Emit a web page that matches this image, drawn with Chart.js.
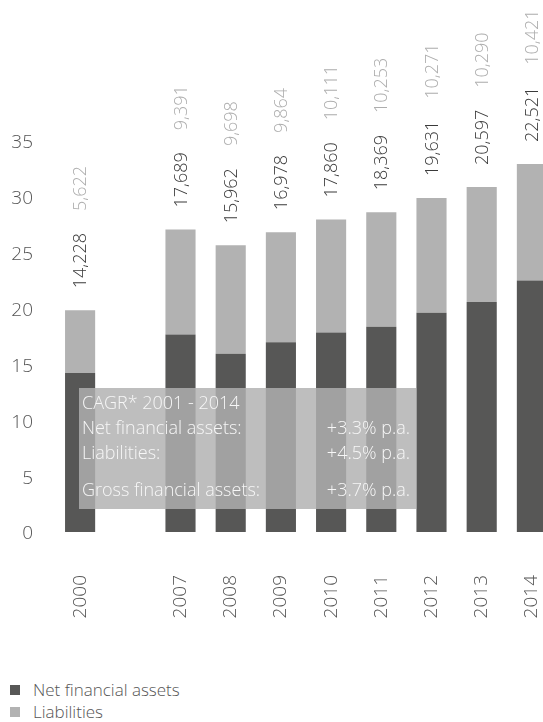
<!DOCTYPE html>
<html>
<head>
<meta charset="utf-8">
<script src="https://cdn.jsdelivr.net/npm/chart.js@4"></script>
<style>
  html, body { margin: 0; padding: 0; background: #fff; overflow: hidden; width: 543px; height: 722px; }
  #wrap { position: relative; width: 543px; height: 722px; overflow: hidden; }
  #c { position: absolute; left: 0; top: 0; }
  #legend { position: absolute; left: 10px; top: 679px; font-family: "Open Sans", sans-serif; font-weight: 300; font-size: 17px; color: #555; line-height: 22px; }
  #legend .item { display: flex; align-items: center; white-space: nowrap; }
  #legend .sw { width: 10px; height: 10px; margin-right: 13px; }
</style>
</head>
<body>
<div id="wrap">
  <canvas id="c" width="557" height="660"></canvas>
  <div id="legend"></div>
</div>
<script>
// Household financial assets per capita (EUR), the empty slot marks the gap 2001-2006
const years = ['2000', '', '2007', '2008', '2009', '2010', '2011', '2012', '2013', '2014'];
const netFinancialAssets = [14228, null, 17689, 15962, 16978, 17860, 18369, 19631, 20597, 22521];
const liabilities = [5622, null, 9391, 9698, 9864, 10111, 10253, 10271, 10290, 10421];
const yTicksThousands = [0, 5, 10, 15, 20, 25, 30, 35];

const cagrTitle = 'CAGR* 2001 - 2014';
const cagrRows = [
  ['Net financial assets:', '+3.3% p.a.'],
  ['Liabilities:', '+4.5% p.a.'],
  ['Gross financial assets:', '+3.7% p.a.']
];

const DARK = '#575756';
const LIGHT = '#b2b2b2';
const FONT = '"Open Sans", sans-serif';

const fmt = v => v.toLocaleString('en-US');

// rotated value labels above each stacked column
const valueLabels = {
  id: 'valueLabels',
  afterDatasetsDraw(chart) {
    const ctx = chart.ctx;
    const mNet = chart.getDatasetMeta(0);
    const mLiab = chart.getDatasetMeta(1);
    ctx.save();
    ctx.font = '300 18px ' + FONT;
    ctx.textAlign = 'left';
    ctx.textBaseline = 'middle';
    netFinancialAssets.forEach((v, i) => {
      if (v == null) return;
      const x = mNet.data[i].x;
      const top = mLiab.data[i].y;
      ctx.save();
      ctx.translate(x + 1, top - 22);
      ctx.rotate(-Math.PI / 2);
      const a = fmt(v);
      ctx.fillStyle = '#3a3a3a';
      ctx.fillText(a, 0, 0);
      const w = ctx.measureText(a).width;
      ctx.fillStyle = '#adadad';
      ctx.fillText(fmt(liabilities[i]), w + 22, 0);
      ctx.restore();
    });
    ctx.restore();
  }
};

// translucent growth-rate panel laid over the lower part of the columns
const cagrPanel = {
  id: 'cagrPanel',
  afterDatasetsDraw(chart) {
    const ctx = chart.ctx;
    const left = 79, top = 388, right = 416, bottom = 509;
    ctx.save();
    ctx.fillStyle = 'rgba(177,177,177,0.83)';
    ctx.fillRect(left, top, right - left, bottom - top);
    ctx.fillStyle = '#f7f7f7';
    ctx.font = '300 18px ' + FONT;
    ctx.textBaseline = 'middle';
    ctx.textAlign = 'left';
    ctx.fillText(cagrTitle, left + 3, 404);
    const ys = [429, 454, 491];
    cagrRows.forEach((r, k) => {
      ctx.textAlign = 'left';
      ctx.fillText(r[0], left + 3, ys[k]);
      ctx.textAlign = 'right';
      ctx.fillText(r[1], right - 6, ys[k]);
    });
    ctx.restore();
  }
};

const chart = new Chart(document.getElementById('c'), {
  type: 'bar',
  data: {
    labels: years,
    datasets: [
      { label: 'Net financial assets', data: netFinancialAssets, backgroundColor: DARK },
      { label: 'Liabilities', data: liabilities, backgroundColor: LIGHT }
    ]
  },
  options: {
    responsive: false,
    animation: false,
    devicePixelRatio: 1,
    categoryPercentage: 1,
    barPercentage: 0.6,
    layout: { padding: { top: 141, right: 0, bottom: 0, left: 0 } },
    plugins: { legend: { display: false }, tooltip: { enabled: false } },
    scales: {
      x: {
        stacked: true,
        grid: { display: false, drawTicks: false },
        border: { display: false },
        ticks: {
          color: '#555',
          font: { family: FONT, size: 19, weight: 300 },
          minRotation: 90, maxRotation: 90, padding: 43, autoSkip: false
        },
        afterFit(s) { s.height = 128; s.paddingLeft = 0; s.paddingRight = 0; }
      },
      y: {
        stacked: true,
        min: 0, max: 35000,
        grid: { display: false, drawTicks: false },
        border: { display: false },
        afterBuildTicks(s) { s.ticks = yTicksThousands.map(v => ({ value: v * 1000 })); },
        ticks: {
          color: '#555',
          font: { family: FONT, size: 19, weight: 300 },
          padding: 22,
          labelOffset: 2,
          callback: v => String(v / 1000)
        },
        afterFit(s) { s.width = 55; }
      }
    }
  },
  plugins: [valueLabels, cagrPanel]
});

// legend built from the chart's own datasets
const legend = document.getElementById('legend');
chart.data.datasets.forEach(ds => {
  const it = document.createElement('div');
  it.className = 'item';
  const sw = document.createElement('span');
  sw.className = 'sw';
  sw.style.background = ds.backgroundColor;
  const t = document.createElement('span');
  t.textContent = ds.label;
  it.appendChild(sw); it.appendChild(t);
  legend.appendChild(it);
});
</script>
</body>
</html>
